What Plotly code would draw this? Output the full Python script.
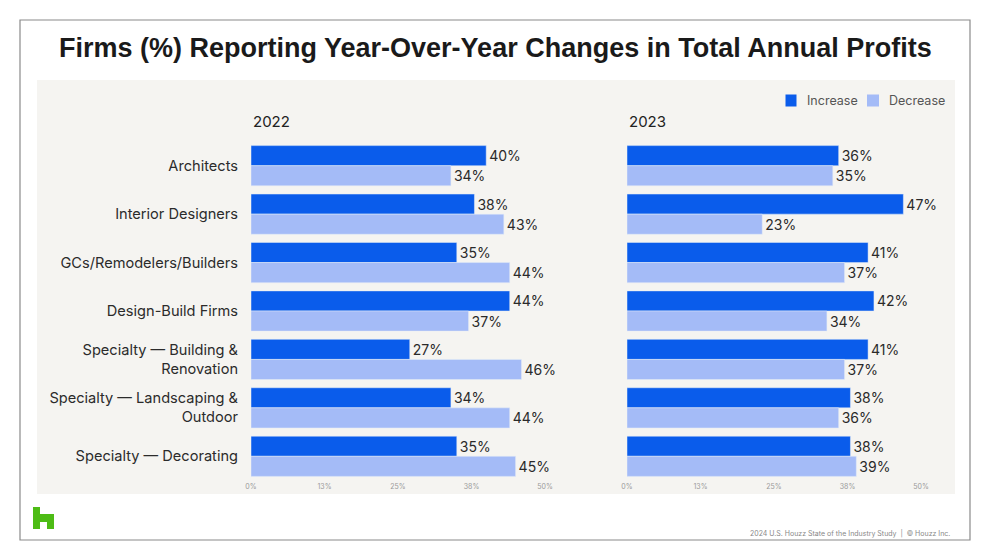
import plotly.graph_objects as go

categories = ["Architects", "Interior Designers", "GCs/Remodelers/Builders", "Design-Build Firms",
              "Specialty — Building &<br>Renovation", "Specialty — Landscaping &<br>Outdoor",
              "Specialty — Decorating"]
inc_2022 = [40, 38, 35, 44, 27, 34, 35]
dec_2022 = [34, 43, 44, 37, 46, 44, 45]
inc_2023 = [36, 47, 41, 42, 41, 38, 38]
dec_2023 = [35, 23, 37, 34, 37, 36, 39]
tick_vals = [0, 12.5, 25, 37.5, 50]
tick_text = ["0%", "13%", "25%", "38%", "50%"]
series_names = ["Increase", "Decrease"]

W, H = 990, 560
def px(x): return x / W
def py(y): return 1 - y / H

C_INC = "#0A5CEB"
C_DEC = "#A4BBF7"
FONT = "Inter"

fig = go.Figure()
common = dict(orientation="h", texttemplate="%{x}%", textposition="outside", cliponaxis=False,
              textfont=dict(family=FONT, size=14, color="#2a2a2a"), showlegend=False)
fig.add_trace(go.Bar(y=categories, x=inc_2022, name=series_names[0], marker_color=C_INC,
                     xaxis="x", yaxis="y", **common))
fig.add_trace(go.Bar(y=categories, x=dec_2022, name=series_names[1], marker_color=C_DEC,
                     xaxis="x", yaxis="y", **common))
fig.add_trace(go.Bar(y=categories, x=inc_2023, name=series_names[0], marker_color=C_INC,
                     xaxis="x2", yaxis="y2", **common))
fig.add_trace(go.Bar(y=categories, x=dec_2023, name=series_names[1], marker_color=C_DEC,
                     xaxis="x2", yaxis="y2", **common))

ydom = [py(480.5), py(141.5)]
xax = dict(range=[0, 50], tickvals=tick_vals, ticktext=tick_text, showgrid=False, zeroline=False,
           showline=False, tickfont=dict(family=FONT, size=7, color="#9a9a9a"), ticks="",
           fixedrange=True, automargin=False)
fig.update_layout(
    width=W, height=H, autosize=False, margin=dict(l=0, r=0, t=0, b=0, pad=0, autoexpand=False),
    paper_bgcolor="white", plot_bgcolor="rgba(0,0,0,0)",
    barmode="group", bargap=0.17, bargroupgap=0,
    xaxis=dict(domain=[px(251), px(545)], anchor="y", **xax),
    xaxis2=dict(domain=[px(627), px(921)], anchor="y2", **xax),
    yaxis=dict(domain=ydom, autorange="reversed", showgrid=False, zeroline=False, ticks="",
               automargin=False, fixedrange=True,
               ticklabelstandoff=12, tickfont=dict(family=FONT, size=14.6, color="#2b2b2b")),
    yaxis2=dict(domain=ydom, autorange="reversed", showgrid=False, zeroline=False,
                automargin=False, fixedrange=True, showticklabels=False, anchor="x2"),
    showlegend=False,
    font=dict(family=FONT),
)

shapes = [
    dict(type="rect", xref="paper", yref="paper", x0=px(20), x1=px(970), y0=py(540), y1=py(20),
         line=dict(color="#8a8a8a", width=1.2), fillcolor="white", layer="below"),
    dict(type="rect", xref="paper", yref="paper", x0=px(37), x1=px(955), y0=py(494), y1=py(80),
         line=dict(width=0), fillcolor="#F5F4F1", layer="below"),
    # legend swatches
    dict(type="rect", xref="paper", yref="paper", x0=px(785.5), x1=px(796.5), y0=py(106.5), y1=py(94.5),
         line=dict(width=0), fillcolor=C_INC),
    dict(type="rect", xref="paper", yref="paper", x0=px(867), x1=px(879), y0=py(106.5), y1=py(94.5),
         line=dict(width=0), fillcolor=C_DEC),
]
logo = [(33, 507), (40, 507), (40, 514), (54, 514), (54, 529), (47, 529), (47, 522),
        (40, 522), (40, 529), (33, 529)]
path = "M " + " L ".join(f"{px(a):.5f},{py(b):.5f}" for a, b in logo) + " Z"
shapes.append(dict(type="path", xref="paper", yref="paper", path=path,
                   fillcolor="#4DBC15", line=dict(width=0)))
fig.update_layout(shapes=shapes)

annotations = [
    dict(text="<b>Firms (%) Reporting Year-Over-Year Changes in Total Annual Profits</b>",
         x=px(495), y=py(48), xanchor="center", yanchor="middle", showarrow=False,
         font=dict(family="Liberation Sans", size=27, color="#1a1a1a")),
    dict(text="2022", x=px(251), y=py(121), xanchor="left", yanchor="middle", showarrow=False,
         font=dict(family=FONT, size=15, color="#222222")),
    dict(text="2023", x=px(627), y=py(121), xanchor="left", yanchor="middle", showarrow=False,
         font=dict(family=FONT, size=15, color="#222222")),
    dict(text=series_names[0], x=px(805), y=py(100.5), xanchor="left", yanchor="middle",
         showarrow=False, font=dict(family=FONT, size=12.5, color="#555555")),
    dict(text=series_names[1], x=px(887), y=py(100.5), xanchor="left", yanchor="middle",
         showarrow=False, font=dict(family=FONT, size=12.5, color="#555555")),
    dict(text="2024 U.S. Houzz State of the Industry Study  |  © Houzz Inc.", x=px(952), y=py(533),
         xanchor="right", yanchor="middle", showarrow=False,
         font=dict(family=FONT, size=7, color="#888888")),
]
for a in annotations:
    a["xref"] = "paper"; a["yref"] = "paper"
fig.update_layout(annotations=annotations)

fig.write_html("out.html",
               config={"responsive": False, "displayModeBar": False},
               post_script="document.body.style.margin='0';document.body.style.overflow='hidden';")
